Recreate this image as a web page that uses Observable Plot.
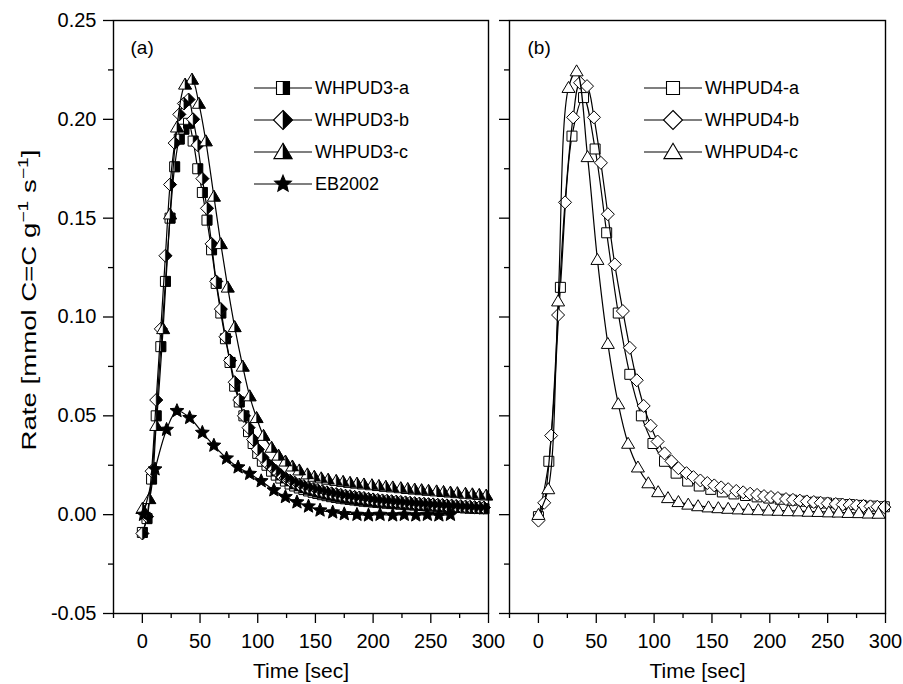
<!DOCTYPE html>
<html><head><meta charset="utf-8">
<script src="https://cdn.jsdelivr.net/npm/d3@7"></script>
<script src="https://cdn.jsdelivr.net/npm/@observablehq/plot@0.6"></script>
<style>
body{margin:0;background:#fff;}
#wrap{position:relative;width:903px;height:684px;}
#wrap svg{position:absolute;top:0;overflow:visible;max-width:none;}
</style></head><body><div id="wrap"></div>
<script>
// ---------- axis ticks ----------
const xTicks = [0, 50, 100, 150, 200, 250, 300];
const xMinor = [-25, 25, 75, 125, 175, 225, 275];
const yTicks = [-0.05, 0, 0.05, 0.10, 0.15, 0.20, 0.25];
const yMinor = [-0.025, 0.025, 0.075, 0.125, 0.175, 0.225];

// ---------- panel (a) ----------
const legendA = ["WHPUD3-a", "WHPUD3-b", "WHPUD3-c", "EB2002"];
const tA = [0,4,8,12,16,20,24,28,32,36,40,44,48,52,56,60,64,68,72,76,80,84,88,92,96,100,104,108,112,116,120,124,128,132,136,140,144,148,152,156,160,164,168,172,176,180,184,188,192,196,200,204,208,212,216,220,224,228,232,236,240,244,248,252,256,260,264,268,272,276,280,284,288,292,296];
const whpud3a = [-0.009,-0.002,0.018,0.050,0.085,0.118,0.150,0.176,0.190,0.195,0.198,0.189,0.175,0.163,0.149,0.134,0.117,0.102,0.089,0.077,0.065,0.057,0.050,0.042,0.036,0.031,0.027,0.025,0.022,0.020,0.0185,0.017,0.0155,0.0145,0.0135,0.0127,0.012,0.0113,0.0107,0.0101,0.0096,0.0091,0.0087,0.0083,0.0080,0.0077,0.0074,0.0071,0.0068,0.0066,0.0064,0.0062,0.0060,0.0058,0.0056,0.0055,0.0053,0.0052,0.0050,0.0049,0.0047,0.0046,0.0045,0.0044,0.0042,0.0041,0.0040,0.0038,0.0037,0.0036,0.0034,0.0033,0.0032,0.0031,0.0030];
const whpud3b = [-0.0095,-0.001,0.022,0.058,0.094,0.131,0.167,0.188,0.2025,0.208,0.210,0.200,0.187,0.170,0.155,0.137,0.118,0.104,0.090,0.078,0.067,0.058,0.050,0.044,0.038,0.033,0.029,0.026,0.024,0.022,0.020,0.0185,0.0172,0.0162,0.0152,0.0144,0.0137,0.0130,0.0124,0.0118,0.0113,0.0108,0.0104,0.0100,0.0096,0.0093,0.0090,0.0087,0.0084,0.0080,0.0077,0.0074,0.0072,0.0070,0.0068,0.0066,0.0064,0.0062,0.0060,0.0058,0.0056,0.0055,0.0053,0.0052,0.0050,0.0049,0.0047,0.0046,0.0044,0.0043,0.0041,0.0040,0.0038,0.0037,0.0036];
const tC = [0,6,12,18,24,30,37,43,49,55,62,68,74,80,87,93,99,105,112,118,124,130,136,143,149,155,161,168,174,180,186,192,199,205,211,217,224,230,236,242,248,255,261,267,273,280,286,292,298];
const whpud3c = [0.003,0.008,0.045,0.094,0.152,0.196,0.2177,0.2202,0.208,0.189,0.161,0.137,0.115,0.095,0.075,0.060,0.049,0.040,0.034,0.030,0.027,0.0245,0.0225,0.0205,0.0193,0.0185,0.0178,0.0172,0.0167,0.0162,0.0158,0.0154,0.0150,0.0146,0.0142,0.0139,0.0135,0.0131,0.0128,0.0125,0.0122,0.0119,0.0116,0.0113,0.0110,0.0107,0.0104,0.0101,0.0098];
const tEB = [1,11,21,30,41,52,62,73,83,93,103,114,124,134,144,154,165,175,186,196,206,217,227,237,247,257,267];
const eb2002 = [0.0,0.023,0.043,0.0525,0.049,0.0415,0.035,0.0285,0.024,0.0207,0.017,0.0124,0.009,0.0063,0.0042,0.0022,0.0012,0.0003,0.0,-0.0003,0.0,-0.0003,0.0,-0.0003,0.0,-0.0003,0.0];

// ---------- panel (b) ----------
const legendB = ["WHPUD4-a", "WHPUD4-b", "WHPUD4-c"];
const tBa = [0,9,19,29,39,49,59,69,79,89,99,109,119,129,139,149,159,169,179,189,199,209,219,229,239,249,259,269,279,289,299];
const whpud4a = [-0.001,0.027,0.115,0.1915,0.211,0.185,0.1426,0.102,0.071,0.050,0.036,0.027,0.021,0.017,0.0145,0.0128,0.0115,0.0105,0.0097,0.0090,0.0084,0.0078,0.0073,0.0068,0.0063,0.0059,0.0055,0.0051,0.0047,0.0043,0.0040];
const tBb = [0,5,11,17,23,30,36,42,48,54,60,66,73,79,85,91,97,103,109,115,121,128,134,140,146,152,158,164,171,177,183,189,195,201,207,214,220,226,232,238,244,250,257,263,269,275,281,287,293,299];
const whpud4b = [-0.003,0.006,0.040,0.101,0.158,0.201,0.2185,0.2168,0.201,0.178,0.152,0.1266,0.103,0.0844,0.068,0.055,0.045,0.037,0.031,0.027,0.0235,0.021,0.019,0.0173,0.016,0.0148,0.0138,0.0129,0.012,0.0113,0.0106,0.0100,0.0094,0.0089,0.0084,0.0079,0.0075,0.0071,0.0067,0.0064,0.0060,0.0057,0.0054,0.0051,0.0049,0.0046,0.0044,0.0042,0.0040,0.0038];
const tBc = [0,8.5,17,26,33,42.5,51,60,69,77.5,86,95,103.5,112,121,129.5,138,147,155.5,164,173,181.5,190,199,207.5,216,225,233.5,242,251,259.5,268,277,285.5,294];
const whpud4c = [0.0,0.013,0.108,0.216,0.2244,0.181,0.129,0.0865,0.056,0.036,0.024,0.016,0.0115,0.0085,0.0065,0.0052,0.0044,0.0038,0.0034,0.0031,0.0028,0.0026,0.0024,0.0022,0.0021,0.0019,0.0018,0.0016,0.0015,0.0013,0.0012,0.0010,0.0009,0.0007,0.0006];

// ---------- symbols ----------
const FONT = '"Liberation Sans", Arial, Helvetica, sans-serif';
function poly(pts){return {draw(ctx,size){const r=Math.sqrt(size/Math.PI);ctx.moveTo(pts[0][0]*r,pts[0][1]*r);for(let i=1;i<pts.length;i++)ctx.lineTo(pts[i][0]*r,pts[i][1]*r);ctx.closePath();}};}
const SQ = poly([[-1,-1],[1,-1],[1,1],[-1,1]]);
const SQ_R = poly([[0,-1],[1,-1],[1,1],[0,1]]);
const DI = poly([[0,-1.3],[1.3,0],[0,1.3],[-1.3,0]]);
const DI_R = poly([[0,-1.3],[1.3,0],[0,1.3]]);
const TR = poly([[0,-1.25],[1.3,0.95],[-1.3,0.95]]);
const TR_R = poly([[0,-1.25],[1.3,0.95],[0,0.95]]);
const STAR = {draw(ctx,size){const r=Math.sqrt(size/Math.PI);const R=1.45*r,ri=R*0.45;for(let k=0;k<10;k++){const a=-Math.PI/2+k*Math.PI/5;const rr=k%2?ri:R;const x=rr*Math.cos(a),y=rr*Math.sin(a);if(k)ctx.lineTo(x,y);else ctx.moveTo(x,y);}ctx.closePath();}};

const rows = (t, v) => t.map((x, i) => ({t: x, v: v[i]}));

function series(data, full, half, r, solid) {
  return [
    Plot.line(data, {x: "t", y: "v", curve: "catmull-rom", stroke: "black", strokeWidth: 1.2}),
    Plot.dot(data, {x: "t", y: "v", symbol: full, r, fill: solid ? "black" : "white", stroke: "black", strokeWidth: 1}),
    half ? Plot.dot(data, {x: "t", y: "v", symbol: half, r, fill: "black", stroke: "black", strokeWidth: 0.5}) : null
  ];
}

function axes(showLabels) {
  return [
    Plot.axisY(yTicks, {tickSize: 10, tickPadding: 7, strokeWidth: 1.3, fontSize: 20,
      tickFormat: showLabels ? (d => d.toFixed(2)) : (() => ""), label: null}),
    Plot.axisY(yMinor, {tickSize: 5, strokeWidth: 1.3, tickFormat: () => "", label: null}),
    Plot.axisX(xTicks, {tickSize: 10, tickPadding: 10, strokeWidth: 1.3, fontSize: 20, tickFormat: d => String(d), label: null}),
    Plot.axisX(xMinor, {tickSize: 5, strokeWidth: 1.3, tickFormat: () => "", label: null}),
    Plot.frame({stroke: "black", strokeWidth: 1.4}),
    Plot.text(["Time [sec]"], {frameAnchor: "bottom", dy: 58, lineAnchor: "middle", fontSize: 21, fill: "black"})
  ];
}

const common = {
  height: 684, marginTop: 20, marginBottom: 71,
  x: {domain: [-25, 300], label: null},
  y: {domain: [-0.05, 0.25], label: null},
  style: {fontFamily: FONT, fontSize: "20px", background: "transparent", overflow: "visible", color: "black"}
};

const plotA = Plot.plot({
  ...common, width: 500, marginLeft: 113, marginRight: 12,
  marks: [
    ...series(rows(tA, whpud3a), SQ, SQ_R, 5),
    ...series(rows(tA, whpud3b), DI, DI_R, 5),
    ...series(rows(tC, whpud3c), TR, TR_R, 5),
    ...series(rows(tEB, eb2002), STAR, null, 5, true),
    ...axes(true),
    Plot.text(["(a)"], {frameAnchor: "top-left", dx: 17, dy: 27, lineAnchor: "middle", textAnchor: "start", fontSize: 19, fill: "black"})
  ]
});

const plotB = Plot.plot({
  ...common, width: 403, marginLeft: 9, marginRight: 18,
  marks: [
    ...series(rows(tBa, whpud4a), SQ, null, 5),
    ...series(rows(tBb, whpud4b), DI, null, 5),
    ...series(rows(tBc, whpud4c), TR, null, 5),
    ...axes(false),
    Plot.text(["(b)"], {frameAnchor: "top-left", dx: 18, dy: 27, lineAnchor: "middle", textAnchor: "start", fontSize: 19, fill: "black"})
  ]
});

const wrap = document.getElementById("wrap");
plotA.style.left = "0px";
plotB.style.left = "500px";
wrap.appendChild(plotA);
wrap.appendChild(plotB);

// ---------- legends ----------
function legend(svg, labels, specs, x0, y0, dy) {
  const g = d3.select(svg).append("g").attr("text-anchor", "start");
  labels.forEach((lab, i) => {
    const s = specs[i];
    const y = y0 + i * dy;
    g.append("line").attr("x1", x0).attr("x2", x0 + 58).attr("y1", y).attr("y2", y)
      .attr("stroke", "black").attr("stroke-width", 1.2);
    const tr = `translate(${x0 + 29},${y})`;
    g.append("path").attr("d", d3.symbol(s.full, Math.PI * s.r * s.r)()).attr("transform", tr)
      .attr("fill", s.solid ? "black" : "white").attr("stroke", "black").attr("stroke-width", 1.1);
    if (s.half) g.append("path").attr("d", d3.symbol(s.half, Math.PI * s.r * s.r)()).attr("transform", tr)
      .attr("fill", "black").attr("stroke", "black").attr("stroke-width", 0.5);
    g.append("text").attr("x", x0 + 61).attr("y", y).attr("dy", "0.36em").attr("text-anchor", "start")
      .attr("font-family", FONT).attr("font-size", 18).attr("fill", "black").text(lab);
  });
}
legend(plotA, legendA, [
  {full: SQ, half: SQ_R, r: 6.5}, {full: DI, half: DI_R, r: 7.3},
  {full: TR, half: TR_R, r: 7}, {full: STAR, r: 6, solid: true}
], 254, 88, 32);
legend(plotB, legendB, [
  {full: SQ, r: 6.5}, {full: DI, r: 7.3}, {full: TR, r: 7}
], 144, 88, 32);

// ---------- y axis title ----------
const yt = d3.select(plotA).append("text")
  .attr("transform", "translate(36,300) rotate(-90) scale(1.38,1)")
  .attr("text-anchor", "middle").attr("font-family", FONT).attr("font-size", 20).attr("fill", "black");
yt.append("tspan").text("Rate [mmol C=C g");
yt.append("tspan").attr("dy", -8).attr("font-size", 14).text("\u22121");
yt.append("tspan").attr("dy", 8).text(" s");
yt.append("tspan").attr("dy", -8).attr("font-size", 14).text("\u22121");
yt.append("tspan").attr("dy", 8).text("]");
</script></body></html>
